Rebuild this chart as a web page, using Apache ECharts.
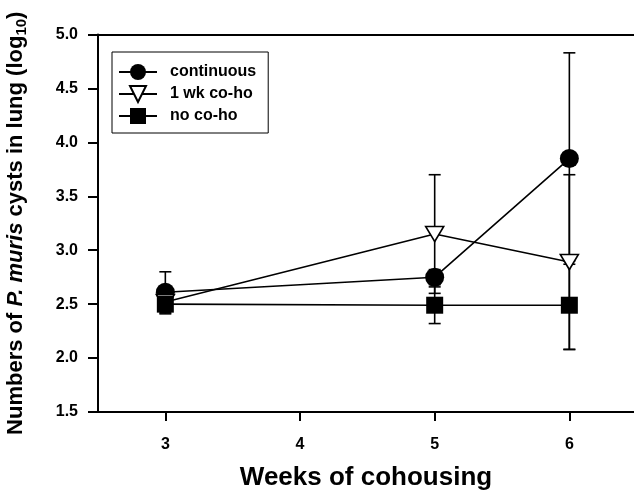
<!DOCTYPE html>
<html>
<head>
<meta charset="utf-8">
<script src="https://cdn.jsdelivr.net/npm/echarts@6/dist/echarts.min.js"></script>
<style>
  html, body { margin: 0; padding: 0; background: #fff; }
  #chart { width: 634px; height: 493px; }
</style>
</head>
<body>
<div id="chart"></div>
<script>
// weeks of cohousing
const weeks = [3, 5, 6];
const xTicks = [3, 4, 5, 6];

// mean log10 cyst counts and error (one SD)
const continuous = [2.61, 2.75, 3.85];
const continuousErr = [0.19, 0.07, 0.98];
const oneWeek = [2.52, 3.15, 2.89];
const oneWeekErr = [0.05, 0.55, 0.81];
const noCoho = [2.50, 2.49, 2.49];
const noCohoErr = [0.09, 0.17, 0.41];

const seriesNames = ['continuous', '1 wk co-ho', 'no co-ho'];

const font = '"Liberation Sans", Arial, sans-serif';

const toPoints = (vals) => weeks.map((w, i) => [w, vals[i]]);
const toErr = (vals, errs) => weeks.map((w, i) => [w, vals[i], errs[i]]);

// vertical error bar with caps
const renderErr = (params, api) => {
    const x = api.value(0);
    const v = api.value(1);
    const e = api.value(2);
    const hi = api.coord([x, v + e]);
    const lo = api.coord([x, v - e]);
    const cap = 6;
    const style = { stroke: '#000', lineWidth: 1.6 };
    return {
        type: 'group',
        children: [
            { type: 'line', shape: { x1: hi[0], y1: hi[1], x2: lo[0], y2: lo[1] }, style: style },
            { type: 'line', shape: { x1: hi[0] - cap, y1: hi[1], x2: hi[0] + cap, y2: hi[1] }, style: style },
            { type: 'line', shape: { x1: lo[0] - cap, y1: lo[1], x2: lo[0] + cap, y2: lo[1] }, style: style },
        ],
    };
};

const errSeries = (vals, errs) => ({
    type: 'custom',
    renderItem: renderErr,
    data: toErr(vals, errs),
    z: 1,
    silent: true,
});

const lineStyle = { color: '#000', width: 1.6 };

const chart = echarts.init(document.getElementById('chart'));
chart.setOption({
    animation: false,
    backgroundColor: '#fff',
    grid: { left: 98, right: 0, top: 34.5, bottom: 81, outerBoundsMode: 'none', containLabel: false },
    legend: {
        orient: 'vertical',
        left: 112,
        top: 52,
        padding: [10, 12, 7, 6],
        itemWidth: 38,
        itemHeight: 20,
        itemGap: 2,
        borderColor: '#000',
        borderWidth: 1,
        data: seriesNames,
        textStyle: {
            fontFamily: font,
            fontWeight: 'bold',
            fontSize: 16,
            lineHeight: 20,
            color: '#000',
            padding: [0, 0, 0, 8],
        },
    },
    xAxis: [
        {
            type: 'value',
            min: 2.5,
            max: 6.48,
            name: 'Weeks of cohousing',
            nameLocation: 'middle',
            nameGap: 53,
            nameTextStyle: { fontFamily: font, fontWeight: 'bold', fontSize: 26, color: '#000', verticalAlign: 'top' },
            splitLine: { show: false },
            axisLine: { lineStyle: { color: '#000', width: 2 } },
            axisTick: { customValues: xTicks, length: 9, lineStyle: { color: '#000', width: 2 } },
            axisLabel: { customValues: xTicks, margin: 25, fontFamily: font, fontWeight: 'bold', fontSize: 16, color: '#000' },
        },
        {
            type: 'value',
            position: 'top',
            min: 2.5,
            max: 6.48,
            splitLine: { show: false },
            axisLine: { show: true, lineStyle: { color: '#000', width: 2 } },
            axisTick: { show: false },
            axisLabel: { show: false },
        },
    ],
    yAxis: {
        type: 'value',
        min: 1.5,
        max: 5,
        interval: 0.5,
        name: 'Numbers of {i|P. muris} cysts in lung (log{sub|10})',
        nameLocation: 'middle',
        nameRotate: 90,
        nameGap: 69,
        nameTextStyle: {
            fontFamily: font,
            fontWeight: 'bold',
            fontSize: 22,
            color: '#000',
            rich: {
                i: { fontFamily: font, fontWeight: 'bold', fontStyle: 'italic', fontSize: 22, color: '#000' },
                sub: { fontFamily: font, fontWeight: 'bold', fontSize: 15, color: '#000', padding: [11, 0, 0, 0] },
            },
        },
        splitLine: { show: false },
        axisLine: { show: true, lineStyle: { color: '#000', width: 2 } },
        axisTick: { show: true, length: 10, lineStyle: { color: '#000', width: 2 } },
        axisLabel: {
            margin: 20,
            fontFamily: font,
            fontWeight: 'bold',
            fontSize: 16,
            color: '#000',
            formatter: (v) => v.toFixed(1),
        },
    },
    series: [
        errSeries(continuous, continuousErr),
        errSeries(oneWeek, oneWeekErr),
        errSeries(noCoho, noCohoErr),
        {
            name: seriesNames[0],
            type: 'line',
            data: toPoints(continuous),
            symbol: 'circle',
            symbolSize: 19,
            showAllSymbol: true,
            lineStyle: lineStyle,
            itemStyle: { color: '#000', borderColor: '#000', borderWidth: 0 },
            z: 3,
        },
        {
            name: seriesNames[1],
            type: 'line',
            data: toPoints(oneWeek),
            symbol: 'triangle',
            symbolRotate: 180,
            symbolSize: [18, 15],
            showAllSymbol: true,
            lineStyle: lineStyle,
            itemStyle: { color: '#fff', borderColor: '#000', borderWidth: 1.6 },
            z: 3,
        },
        {
            name: seriesNames[2],
            type: 'line',
            data: toPoints(noCoho),
            symbol: 'rect',
            symbolSize: 17,
            showAllSymbol: true,
            lineStyle: lineStyle,
            itemStyle: { color: '#000', borderColor: '#000', borderWidth: 0 },
            z: 3,
        },
    ],
});
</script>
</body>
</html>
